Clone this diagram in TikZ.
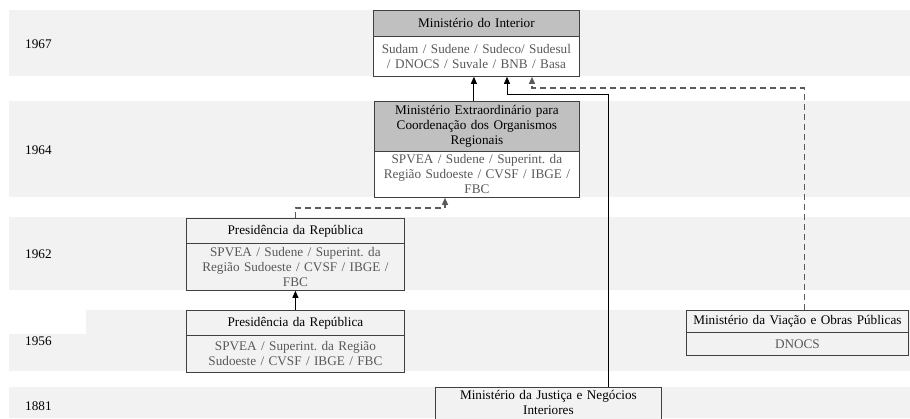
\documentclass[tikz,border=0pt]{standalone}
\usepackage{fontspec}
\setmainfont{Liberation Serif}
\usetikzlibrary{arrows.meta}
\definecolor{bandgray}{HTML}{F2F2F2}
\definecolor{hdrgray}{HTML}{C0C0C0}
\definecolor{boxline}{HTML}{404040}
\definecolor{subtext}{HTML}{595959}
\definecolor{dashgray}{HTML}{5A5A5A}
\frenchspacing
\begin{document}
\begin{tikzpicture}[x=1pt,y=-1pt,
  band/.style={fill=bandgray,draw=none},
  yearlbl/.style={anchor=west,inner sep=0pt,font=\fontsize{13.2}{15}\selectfont},
  boxpart/.style={draw=boxline,line width=0.8pt,anchor=north west,inner sep=0pt,
     align=center,font=\fontsize{13.2}{15}\selectfont},
  hdrdark/.style={boxpart,fill=hdrgray},
  hdrlight/.style={boxpart,fill=bandgray},
  bodywhite/.style={boxpart,fill=white,text=subtext},
  bodylight/.style={boxpart,fill=bandgray,text=subtext},
  arr/.style={draw=black,line width=0.9pt,-{Triangle[width=6pt,length=7pt]}},
  darr/.style={draw=dashgray,line width=1.3pt,dash pattern=on 6pt off 4pt,
     -{Triangle[width=6pt,length=7pt,fill=dashgray]}}]
\useasboundingbox (0,0) rectangle (910,418);
\clip (0,0) rectangle (910,418);
% bands
\fill[band] (9,10) rectangle (910,76);
\fill[band] (9,101) rectangle (910,197);
\fill[band] (9,217) rectangle (910,290);
\fill[band] (86,310) rectangle (910,334);
\fill[band] (9,334) rectangle (910,371);
\fill[band] (9,387) rectangle (910,418);
% years
\node[yearlbl] (y67) at (25,44) {1967};
\node[yearlbl] (y64) at (25,150) {1964};
\node[yearlbl] (y62) at (25,254) {1962};
\node[yearlbl] (y56) at (25,341) {1956};
\node[yearlbl] (y81) at (25,406) {1881};
% Ministerio do Interior
\node[hdrdark,minimum width=206pt,minimum height=26pt,text width=204pt] (inth) at (373,10) {Ministério do Interior};
\node[bodywhite,minimum width=206pt,minimum height=40pt,text width=206pt] (intb) at (373,36) {Sudam / Sudene / Sudeco/ Sudesul\\/ DNOCS / Suvale / BNB / Basa};
% Extraordinario
\node[hdrdark,minimum width=205pt,minimum height=50pt,text width=203pt] (exth) at (374,101) {Ministério Extraordinário para\\Coordenação dos Organismos\\Regionais};
\node[bodywhite,minimum width=205pt,minimum height=46pt,text width=203pt] (extb) at (374,151) {SPVEA / Sudene / Superint. da\\Região Sudoeste / CVSF / IBGE /\\FBC};
% Presidencia 1962
\node[hdrlight,minimum width=218pt,minimum height=25pt,text width=216pt] (p62h) at (186,218) {Presidência da República};
\node[bodylight,minimum width=218pt,minimum height=47pt,text width=216pt] (p62b) at (186,243) {SPVEA / Sudene / Superint. da\\Região Sudoeste / CVSF / IBGE /\\FBC};
% Presidencia 1956
\node[hdrlight,minimum width=218pt,minimum height=25pt,text width=216pt] (p56h) at (186,310) {Presidência da República};
\node[bodylight,minimum width=218pt,minimum height=37pt,text width=216pt] (p56b) at (186,335) {SPVEA / Superint. da Região\\Sudoeste / CVSF / IBGE / FBC};
% Viacao
\node[hdrlight,minimum width=222pt,minimum height=22pt,text width=222pt] (viah) at (686,310) {Ministério da Viação e Obras Públicas};
\node[bodylight,minimum width=222pt,minimum height=23pt,text width=222pt] (viab) at (686,332) {DNOCS};
% Justica (runs past the lower edge)
\node[hdrlight,minimum width=226pt,text width=224pt,inner ysep=3pt,text depth=20pt] (jus) at (435,387) {Ministério da Justiça e Negócios\\Interiores};
% connectors
\coordinate (jt) at (507,94);
\coordinate (vt) at (532,88);
\coordinate (pt) at (445,208);
\draw[arr] ([xshift=-3pt]exth.north) -- ([xshift=-3pt]exth.north |- intb.south);
\draw[arr] ([xshift=60pt]jus.north) |- (jt) -- (jt |- intb.south);
\draw[darr] ([xshift=7pt]viah.north) |- (vt) -- (vt |- intb.south);
\draw[darr] (p62h.north) |- (pt) -- (pt |- extb.south);
\draw[arr] (p56h.north) -- (p62b.south);
\end{tikzpicture}
\end{document}
